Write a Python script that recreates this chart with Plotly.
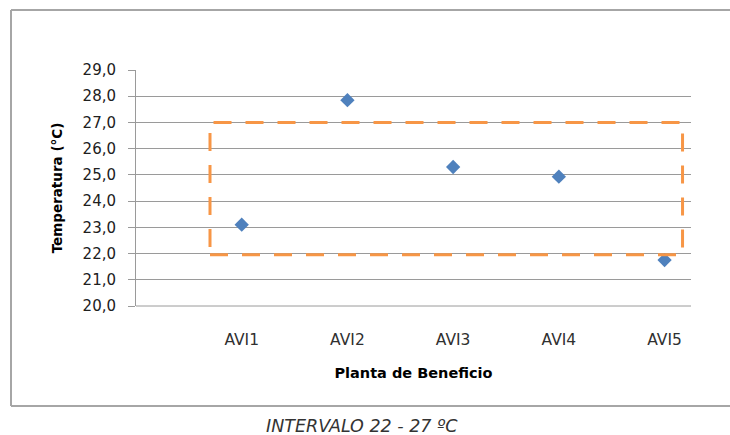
import plotly.graph_objects as go

categories = ["AVI1", "AVI2", "AVI3", "AVI4", "AVI5"]
temperatures = [23.1, 27.85, 25.3, 24.93, 21.75]
interval_low = 22.0
interval_high = 27.0
y_ticks = [20, 21, 22, 23, 24, 25, 26, 27, 28, 29]
y_tick_labels = ["20,0", "21,0", "22,0", "23,0", "24,0", "25,0", "26,0", "27,0", "28,0", "29,0"]
x_positions = [1, 2, 3, 4, 5]

W, H = 730, 435
L, R, T, B = 136, 691, 70, 306
pw, ph = R - L, B - T

def px(x):
    return (x - L) / pw

def py(y):
    return (B - y) / ph

fig = go.Figure()
fig.add_trace(go.Scatter(
    x=x_positions, y=temperatures, mode="markers",
    marker=dict(symbol="diamond", size=11, color="#4F81BD"),
    showlegend=False, hoverinfo="skip"))

font = "DejaVu Sans"
frame = dict(color="#A6A6A6", width=2)
fig.update_layout(
    width=W, height=H,
    margin=dict(l=L, r=W - R, t=T, b=H - B),
    paper_bgcolor="white", plot_bgcolor="white",
    xaxis=dict(range=[0, 5.25], tickvals=x_positions, ticktext=categories,
               showgrid=False, zeroline=False, showline=False, ticks="",
               ticklabelstandoff=22,
               tickfont=dict(family=font, size=15.5, color="#303030"),
               title=dict(text="<b>Planta de Beneficio</b>", standoff=20,
                          font=dict(family=font, size=14.5, color="#000000"))),
    yaxis=dict(range=[20, 29], tickvals=y_ticks, ticktext=y_tick_labels,
               showgrid=True, gridcolor="#9A9A9A", gridwidth=1,
               zeroline=False, showline=True, linecolor="#9A9A9A", linewidth=1,
               ticks="outside", ticklen=7, tickcolor="#9A9A9A",
               ticklabelstandoff=9,
               tickfont=dict(family=font, size=15, color="#202020"),
               title=dict(text="<b>Temperatura (°C)</b>", standoff=16,
                          font=dict(family=font, size=13.5, color="#000000"))),
    shapes=[
        # interval box
        dict(type="rect", xref="x", yref="y", x0=0.70, x1=5.17,
             y0=interval_low - 0.05, y1=interval_high,
             line=dict(color="#F79646", width=3, dash="18px,14px"),
             fillcolor="rgba(0,0,0,0)", layer="above"),
        # outer frame (left, top, bottom)
        dict(type="line", xref="paper", yref="paper",
             x0=px(11), x1=px(11), y0=py(406), y1=py(10), line=frame),
        dict(type="line", xref="paper", yref="paper",
             x0=px(11), x1=px(735), y0=py(10), y1=py(10), line=frame),
        dict(type="line", xref="paper", yref="paper",
             x0=px(11), x1=px(735), y0=py(406), y1=py(406), line=frame),
        # bottom axis line
        dict(type="line", xref="paper", yref="paper", x0=0, x1=1, y0=0, y1=0,
             line=dict(color="#9A9A9A", width=1)),
    ],
    annotations=[
        dict(text="<i>INTERVALO 22 - 27 ºC</i>", xref="paper", yref="paper",
             x=px(362), y=py(426), xanchor="center", yanchor="middle",
             showarrow=False, font=dict(family=font, size=17.5, color="#333333")),
    ],
)

fig.write_html("out.html", config={"displayModeBar": False},
               post_script="document.body.style.margin='0';document.body.style.overflow='hidden';")
